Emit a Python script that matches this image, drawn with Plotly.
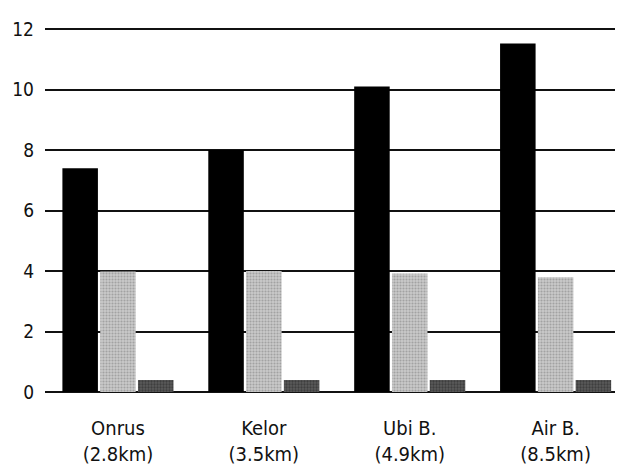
import plotly.graph_objects as go

categories = ["Onrus<br>(2.8km)", "Kelor<br>(3.5km)", "Ubi B.<br>(4.9km)", "Air B.<br>(8.5km)"]
series_a = [7.4, 8.0, 10.1, 11.52]
series_b = [3.98, 4.0, 3.92, 3.79]
series_c = [0.4, 0.4, 0.4, 0.4]
y_ticks = [0, 2, 4, 6, 8, 10, 12]

FONT = "DejaVu Sans Condensed, Liberation Sans, sans-serif"

fig = go.Figure()
fig.add_bar(x=categories, y=series_a, marker=dict(color="#000000", line=dict(width=0)))
fig.add_bar(x=categories, y=series_b,
            marker=dict(color="#bdbdbd", line=dict(width=0),
                        pattern=dict(shape=".", fgcolor="#7a7a7a", bgcolor="#cacaca", size=3, solidity=0.4)))
fig.add_bar(x=categories, y=series_c,
            marker=dict(color="#4a4a4a", line=dict(width=0),
                        pattern=dict(shape=".", fgcolor="#222222", bgcolor="#5a5a5a", size=3, solidity=0.45)))

fig.update_layout(
    width=615, height=460,
    margin=dict(l=37, r=1, t=15, b=76),
    paper_bgcolor="white", plot_bgcolor="white",
    barmode="group", bargap=0.223, bargroupgap=0.06,
    showlegend=False,
    font=dict(family=FONT, size=20, color="#111111"),
)
fig.update_xaxes(range=[-0.5, 3.455], showgrid=False, showline=False, ticks="",
                 tickfont=dict(size=20), zeroline=False, ticklabelstandoff=22)
fig.update_yaxes(range=[0, 12.2], tickvals=y_ticks, showgrid=True, gridcolor="#111111", gridwidth=2,
                 zeroline=True, zerolinecolor="#111111", zerolinewidth=2,
                 showline=False, ticks="", ticklabelstandoff=10, tickfont=dict(size=19))

fig.write_html("out.html")
